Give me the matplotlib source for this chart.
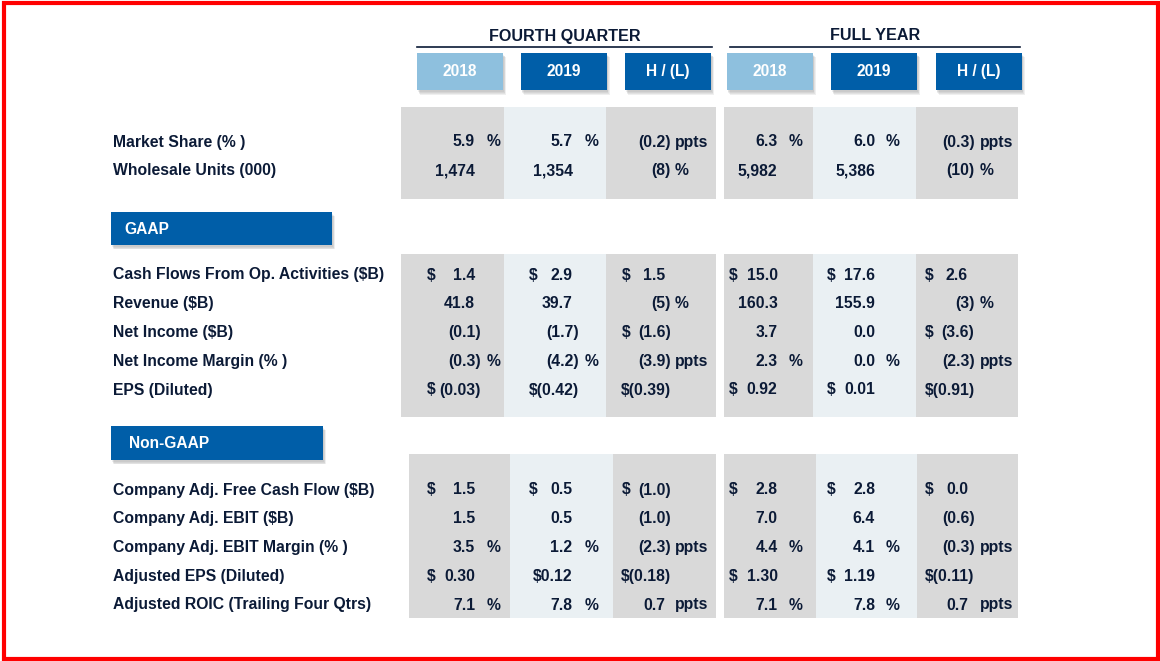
import matplotlib.pyplot as plt
from matplotlib.patches import Rectangle

plt.rcParams["font.family"] = ["Liberation Sans", "DejaVu Sans"]

NAVY = "#0b1a36"
DARK_BLUE = "#005ea8"
LIGHT_BLUE = "#8ec0de"
GRAY = "#d9d9d9"
LIGHT = "#eaf0f3"

# data
group_titles = ["FOURTH QUARTER", "FULL YEAR"]
col_headers = ["2018", "2019", "H / (L)", "2018", "2019", "H / (L)"]
section_names = ["", "GAAP", "Non-GAAP"]

labels_top = ["Market Share (% )", "Wholesale Units (000)"]
labels_gaap = ["Cash Flows From Op. Activities ($B)", "Revenue ($B)", "Net Income ($B)",
               "Net Income Margin (% )", "EPS (Diluted)"]
labels_nongaap = ["Company Adj. Free Cash Flow ($B)", "Company Adj. EBIT ($B)",
                  "Company Adj. EBIT Margin (% )", "Adjusted EPS (Diluted)",
                  "Adjusted ROIC (Trailing Four Qtrs)"]

# one list per column: number text, plus "$" prefix and unit suffix per row
q4_2018 = ["5.9", "1,474", "1.4", "41.8", "(0.1)", "(0.3)", "(0.03)", "1.5", "1.5", "3.5", "0.30", "7.1"]
q4_2019 = ["5.7", "1,354", "2.9", "39.7", "(1.7)", "(4.2)", "$(0.42)", "0.5", "0.5", "1.2", "$0.12", "7.8"]
q4_hl = ["(0.2)", "(8)", "1.5", "(5)", "(1.6)", "(3.9)", "$(0.39)", "(1.0)", "(1.0)", "(2.3)", "$(0.18)", "0.7"]
fy_2018 = ["6.3", "5,982", "15.0", "160.3", "3.7", "2.3", "0.92", "2.8", "7.0", "4.4", "1.30", "7.1"]
fy_2019 = ["6.0", "5,386", "17.6", "155.9", "0.0", "0.0", "0.01", "2.8", "6.4", "4.1", "1.19", "7.8"]
fy_hl = ["(0.3)", "(10)", "2.6", "(3)", "(3.6)", "(2.3)", "$(0.91)", "0.0", "(0.6)", "(0.3)", "$(0.11)", "0.7"]

q4_2018_pre = ["", "", "$", "", "", "", "$", "$", "", "", "$", ""]
q4_2019_pre = ["", "", "$", "", "", "", "", "$", "", "", "", ""]
hl_pre = ["", "", "$", "", "$", "", "", "$", "", "", "", ""]
fy_pre = ["", "", "$", "", "", "", "$", "$", "", "", "$", ""]

pct_suf = ["%", "", "", "", "", "%", "", "", "", "%", "", "%"]
hl_suf = ["ppts", "%", "", "%", "", "ppts", "", "", "", "ppts", "", "ppts"]

columns = [q4_2018, q4_2019, q4_hl, fy_2018, fy_2019, fy_hl]
prefixes = [q4_2018_pre, q4_2019_pre, hl_pre, fy_pre, fy_pre, hl_pre]
suffixes = [pct_suf, pct_suf, hl_suf, pct_suf, pct_suf, hl_suf]

# layout (pixels)
dollar_x = [427, 528.6, 622, 729, 827, 925]
digit_x = [475, 572.5, 665, 777.5, 875, 968]
paren_x = [480.5, 578.6, 671, 783, 881, 974.5]
suffix_x = [487, 584.5, 674.5, 788.5, 885.5, 979.5]
head_x0 = [417, 520.7, 625, 726.8, 831, 935.7]
head_col = [LIGHT_BLUE, DARK_BLUE, DARK_BLUE, LIGHT_BLUE, DARK_BLUE, DARK_BLUE]
shade_cols = [GRAY, LIGHT, GRAY, GRAY, LIGHT, GRAY]
shade_x_a = [401, 503.6, 606, 716, 724, 812.5, 916, 1018]
shade_x_b = [409, 510, 612.5, 716, 724, 816, 917, 1018]

sections = [
    (labels_top, 142, (107, 199), shade_x_a, None),
    (labels_gaap, 275, (254, 417), shade_x_a, (111, 332, 212, 245, 124)),
    (labels_nongaap, 490, (454, 618), shade_x_b, (111, 323, 426, 460, 129)),
]
step = 28.75
fs = 11.3

fig = plt.figure(figsize=(11.6, 6.61), dpi=100)
ax = fig.add_axes([0, 0, 1, 1])
ax.set_xlim(0, 1160)
ax.set_ylim(661, 0)
ax.axis("off")


def shadow_box(x0, y0, w, h, color):
    for i in range(4):
        ax.add_patch(Rectangle((x0 + 1 + i * 0.6, y0 + 2 + i * 0.8), w, h,
                               color="#7f7f7f", alpha=0.12, lw=0, zorder=1))
    ax.add_patch(Rectangle((x0, y0), w, h, color=color, lw=0, zorder=2))


# group titles and rules
ax.text(564.5, 36, group_titles[0], ha="center", va="center", fontsize=11.6,
        fontweight="bold", color=NAVY)
ax.text(875, 36, group_titles[1], ha="center", va="center", fontsize=11.6,
        fontweight="bold", color=NAVY)
ax.plot([417, 712], [46.5, 46.5], color=NAVY, lw=1.2)
ax.plot([730, 1020], [46.5, 46.5], color=NAVY, lw=1.2)

for x0, c, t in zip(head_x0, head_col, col_headers):
    shadow_box(x0, 52.7, 86, 37.5, c)
    ax.text(x0 + 43, 71.5, t, ha="center", va="center", fontsize=11.2,
            fontweight="bold", color="white", zorder=3)

row = 0
for (labels, y_first, (yt, yb), sx, box), name in zip(sections, section_names):
    # shaded column blocks
    edges = [(sx[0], sx[1]), (sx[1], sx[2]), (sx[2], sx[3]),
             (sx[4], sx[5]), (sx[5], sx[6]), (sx[6], sx[7])]
    for (a, b), c in zip(edges, shade_cols):
        ax.add_patch(Rectangle((a, yt), b - a, yb - yt, color=c, lw=0, zorder=0))
    if box is not None:
        bx0, bx1, by0, by1, tx = box
        shadow_box(bx0, by0, bx1 - bx0, by1 - by0, DARK_BLUE)
        ax.text(tx, (by0 + by1) / 2 + 0.5, name, ha="left", va="center", fontsize=11.2,
                fontweight="bold", color="white", zorder=3)
    for i, lab in enumerate(labels):
        y = y_first + i * step
        ax.text(113, y, lab, ha="left", va="center", fontsize=fs,
                fontweight="bold", color=NAVY)
        for j in range(6):
            num = columns[j][row]
            xr = paren_x[j] if num.endswith(")") else digit_x[j]
            ax.text(xr, y, num, ha="right", va="center", fontsize=fs,
                    fontweight="bold", color=NAVY)
            if prefixes[j][row]:
                ax.text(dollar_x[j], y, prefixes[j][row], ha="left", va="center",
                        fontsize=fs, fontweight="bold", color=NAVY)
            if suffixes[j][row]:
                ax.text(suffix_x[j], y, suffixes[j][row], ha="left", va="center",
                        fontsize=fs, fontweight="bold", color=NAVY)
        row += 1

# red frame
ax.add_patch(Rectangle((3.5, 2.5), 1154.5, 656.5, fill=False, edgecolor="#ff0000",
                       lw=3, zorder=5))

fig.savefig("out.png", dpi=100)
